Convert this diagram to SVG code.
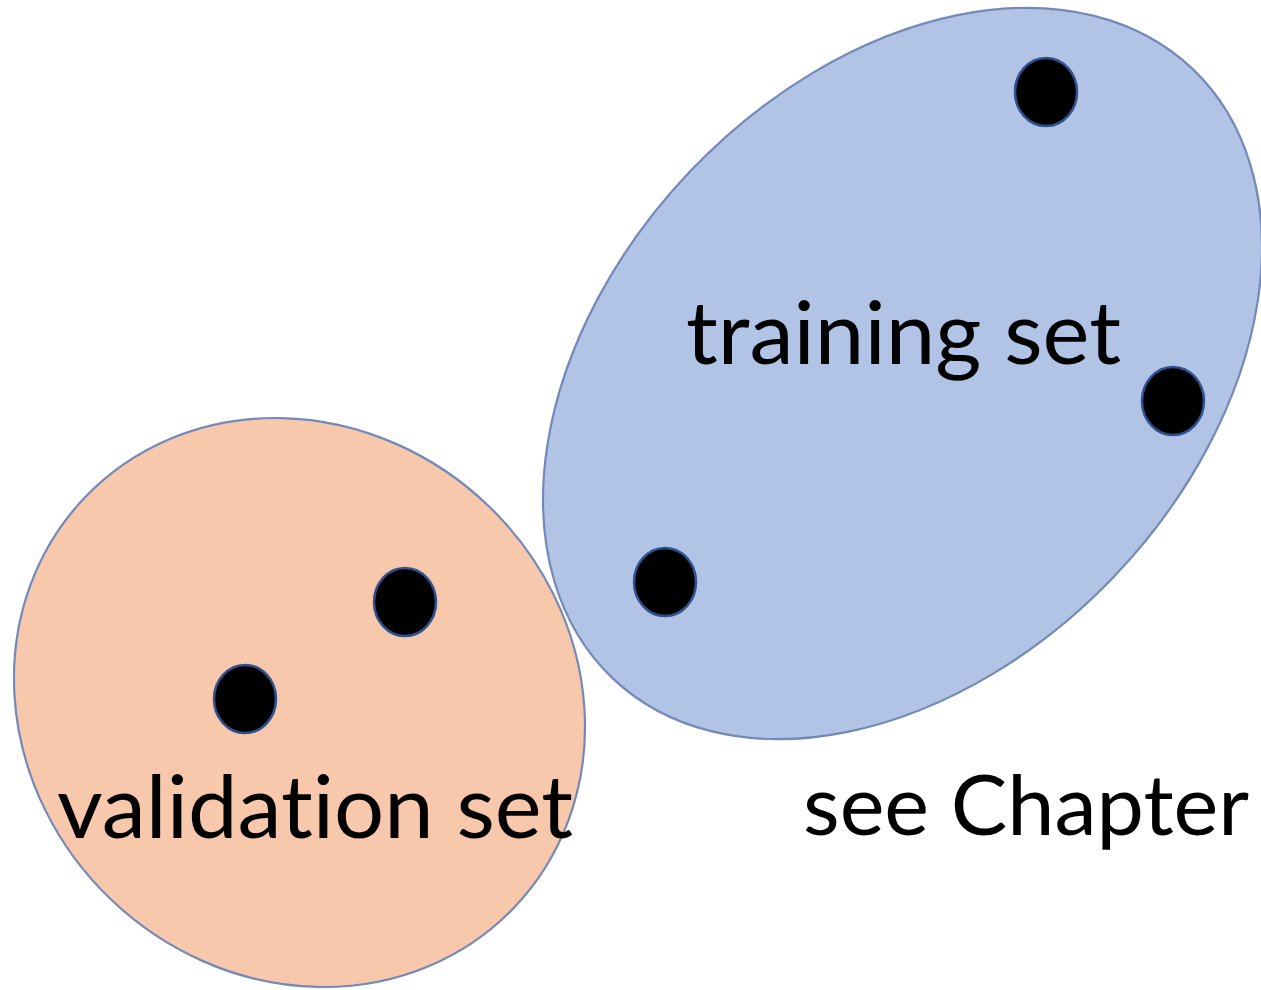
<svg xmlns="http://www.w3.org/2000/svg" width="1261" height="990" viewBox="0 0 1261 990">
<style>
.set{stroke:#7389B8;stroke-width:2.2}
.train{fill:#B1C4E5}
.valid{fill:#F7C8AC}
.dot{fill:#000;stroke:#2F528F;stroke-width:2.5}
.lbl{font-family:"Lato","Open Sans","Liberation Sans",sans-serif;font-size:88px;fill:#000;font-variant-ligatures:none;font-feature-settings:"liga" 0,"clig" 0}
</style>
<rect width="1261" height="990" fill="#fff"/>
<g id="training-set">
<ellipse class="set train" cx="902.5" cy="373.5" rx="420.6" ry="293.2" transform="rotate(-46.4 902.5 373.5)"/>
<text class="lbl" x="686" y="364" textLength="435" lengthAdjust="spacingAndGlyphs">training set</text>
</g>
<g id="validation-set">
<ellipse class="set valid" cx="299.5" cy="702.5" rx="296.8" ry="272.7" transform="rotate(43.8 299.5 702.5)"/>
<text class="lbl" x="57" y="838" textLength="516" lengthAdjust="spacingAndGlyphs">validation set</text>
</g>
<g id="points">
<ellipse class="dot" cx="1046" cy="92" rx="31" ry="34"/>
<ellipse class="dot" cx="1173" cy="401" rx="31" ry="34"/>
<ellipse class="dot" cx="665" cy="582" rx="31" ry="34"/>
<ellipse class="dot" cx="405" cy="602" rx="31" ry="34"/>
<ellipse class="dot" cx="245" cy="699" rx="31" ry="34"/>
</g>
<g id="caption">
<text class="lbl" x="803" y="835" style="font-size:84px" textLength="446" lengthAdjust="spacingAndGlyphs">see Chapter</text>
</g>
<g id="connectors"/>
</svg>
